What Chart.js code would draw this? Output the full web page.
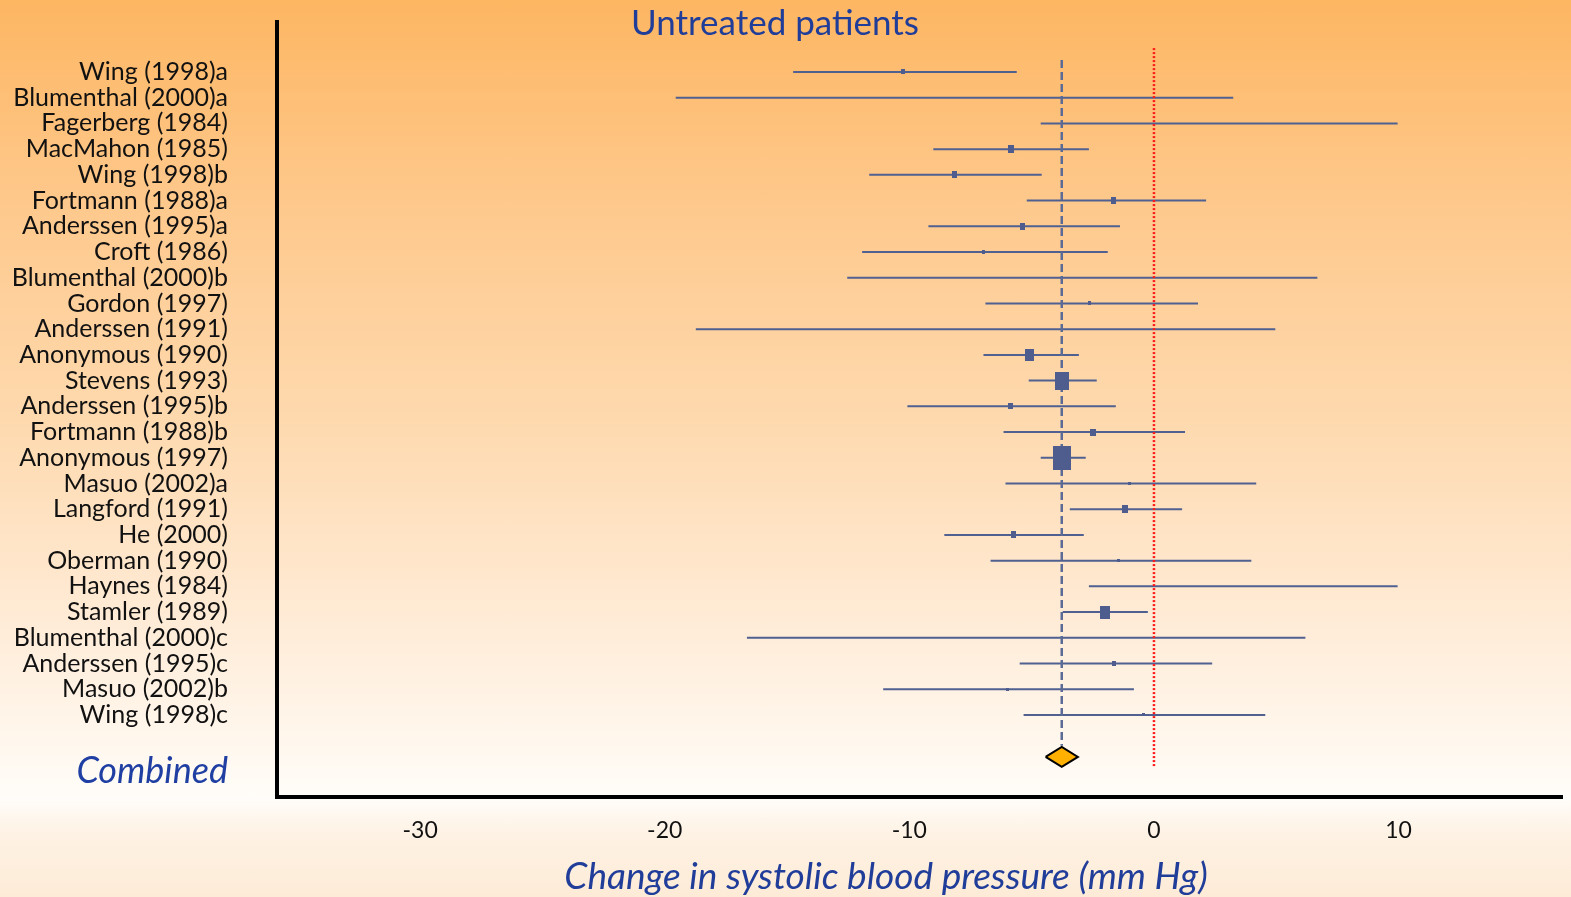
<!DOCTYPE html>
<html>
<head>
<meta charset="utf-8">
<title>Untreated patients</title>
<script src="https://cdn.jsdelivr.net/npm/chart.js@4.4.1/dist/chart.umd.min.js"></script>
<style>
  html, body { margin: 0; padding: 0; }
  #wrap {
    width: 1571px;
    height: 897px;
    background: linear-gradient(to bottom, #fdb662 0%, #fec88b 22%, #fedab0 48%, #ffecd8 70%, #fffaf3 86%, #fffdf9 89%, #fef2e4 93%, #fdebd7 100%);
  }
</style>
</head>
<body>
<div id="wrap"><canvas id="forest"></canvas></div>
<script>
// studies, top to bottom
const studies = [
  'Wing (1998)a', 'Blumenthal (2000)a', 'Fagerberg (1984)', 'MacMahon (1985)', 'Wing (1998)b',
  'Fortmann (1988)a', 'Anderssen (1995)a', 'Croft (1986)', 'Blumenthal (2000)b', 'Gordon (1997)',
  'Anderssen (1991)', 'Anonymous (1990)', 'Stevens (1993)', 'Anderssen (1995)b', 'Fortmann (1988)b',
  'Anonymous (1997)', 'Masuo (2002)a', 'Langford (1991)', 'He (2000)', 'Oberman (1990)',
  'Haynes (1984)', 'Stamler (1989)', 'Blumenthal (2000)c', 'Anderssen (1995)c', 'Masuo (2002)b',
  'Wing (1998)c'
];
// change in SBP (mm Hg) and 95% CI
const means = [-10.25, -8.15, 2.67, -5.86, -8.16, -1.64, -5.37, -6.97, -2.93, -2.62,
  -6.9, -5.08, -3.77, -5.86, -2.5, -3.77, -1.02, -1.19, -5.74, -1.43,
  3.65, -2.0, -5.2, -1.64, -5.98, -0.41];
const lows = [-14.75, -19.55, -4.63, -9.02, -11.64, -5.2, -9.22, -11.93, -12.54, -6.89,
  -18.73, -6.97, -5.12, -10.08, -6.15, -4.63, -6.07, -3.44, -8.57, -6.68,
  -2.66, -3.73, -16.64, -5.49, -11.07, -5.33];
const highs = [-5.61, 3.24, 9.96, -2.66, -4.59, 2.13, -1.39, -1.89, 6.68, 1.8,
  4.96, -3.07, -2.34, -1.56, 1.27, -2.79, 4.18, 1.15, -2.87, 3.98,
  9.96, -0.25, 6.19, 2.38, -0.82, 4.55];
// relative weight (%)
const weights = [0.9, 0.05, 0.05, 2.0, 1.4, 1.4, 1.4, 0.5, 0.05, 0.5,
  0.05, 5.0, 11, 1.2, 1.8, 19, 0.4, 2.0, 1.4, 0.4,
  0.05, 6.0, 0.05, 0.9, 0.4, 0.4];
const combined = { mean: -3.77, low: -4.43, high: -3.11 };
const xTicks = [-30, -20, -10, 0, 10];

const BLUE = '#4f6091';
const rows = studies.map((s, i) => i);
const combinedRow = 26.63;
const combinedLabelRow = 27.18;

function box(w) {
  const h = 5.5 * Math.sqrt(w);
  const c = document.createElement('canvas');
  c.width = Math.max(1, Math.round(h * 0.75));
  c.height = Math.max(1, Math.round(h));
  const g = c.getContext('2d');
  g.fillStyle = h < 1.5 ? 'rgba(0,0,0,0)' : '#4e5d8e';
  g.fillRect(0, 0, c.width, c.height);
  return c;
}
const boxes = weights.map(box);

const ciData = rows.flatMap(i => [
  { x: lows[i], y: i }, { x: highs[i], y: i }, { x: highs[i], y: null }
]);
const h = 0.39;
const diamond = [
  { x: combined.low, y: combinedRow }, { x: combined.mean, y: combinedRow - h },
  { x: combined.high, y: combinedRow }, { x: combined.mean, y: combinedRow + h },
  { x: combined.low, y: combinedRow }
];

const texts = {
  id: 'texts',
  afterDraw(chart) {
    const ctx = chart.ctx;
    ctx.save();
    ctx.textAlign = 'center';
    ctx.textBaseline = 'middle';
    ctx.fillStyle = '#1f3d99';
    ctx.font = '35px Lato';
    ctx.fillText('Untreated patients', 775, 24);
    ctx.font = 'italic 37px Lato';
    ctx.fillText('Change in systolic blood pressure (mm Hg)', 886, 877);
    ctx.restore();
  }
};

new Chart(document.getElementById('forest'), {
  type: 'scatter',
  data: {
    datasets: [
      {
        label: 'Studies',
        data: rows.map(i => ({ x: means[i], y: i })),
        pointStyle: ctx => boxes[ctx.dataIndex],
        pointRadius: 3
      },
      {
        label: 'Combined',
        data: diamond,
        showLine: true,
        fill: 'shape',
        backgroundColor: '#ffb000',
        borderColor: '#000',
        borderWidth: 2,
        pointRadius: 0
      },
      {
        label: 'No effect',
        data: [{ x: 0, y: -0.93 }, { x: 0, y: 27.02 }],
        showLine: true,
        borderColor: '#ff1a1a',
        borderWidth: 2.5,
        borderDash: [2, 2],
        pointRadius: 0
      },
      {
        label: 'Pooled',
        data: [{ x: combined.mean, y: -0.47 }, { x: combined.mean, y: 26.2 }],
        showLine: true,
        borderColor: '#5b6b96',
        borderWidth: 2.5,
        borderDash: [8, 4],
        pointRadius: 0
      },
      {
        label: 'CI',
        data: ciData,
        showLine: true,
        borderColor: BLUE,
        borderWidth: 2,
        pointRadius: 0
      }
    ]
  },
  options: {
    responsive: true,
    maintainAspectRatio: false,
    animation: false,
    layout: { padding: { left: 2, right: 9, top: 22, bottom: 0 } },
    plugins: { legend: { display: false }, tooltip: { enabled: false } },
    scales: {
      x: {
        type: 'linear',
        min: -35.85,
        max: 16.68,
        grid: { display: false },
        border: { display: true, color: '#000', width: 4 },
        afterBuildTicks: s => { s.ticks = xTicks.map(v => ({ value: v })); },
        afterFit: s => { s.height = 100; s.paddingLeft = 0; s.paddingRight = 0; },
        ticks: {
          color: '#111',
          padding: 12,
          font: { family: 'Lato', size: 23 }
        }
      },
      y: {
        type: 'linear',
        reverse: true,
        min: -1.944,
        max: 28.19,
        grid: { display: false },
        border: { display: true, color: '#000', width: 4 },
        afterBuildTicks: s => {
          s.ticks = rows.map(v => ({ value: v })).concat([{ value: combinedLabelRow }]);
        },
        afterFit: s => { s.width = 275; s.paddingTop = 0; s.paddingBottom = 0; },
        ticks: {
          autoSkip: false,
          padding: 41,
          callback: (v, i) => i < studies.length ? studies[i] : 'Combined',
          color: ctx => ctx.index === studies.length ? '#1f3fa3' : '#111',
          font: ctx => ctx.index === studies.length
            ? { family: 'Lato', size: 36, style: 'italic' }
            : { family: 'Lato', size: 25 }
        }
      }
    }
  },
  plugins: [texts]
});
</script>
</body>
</html>
